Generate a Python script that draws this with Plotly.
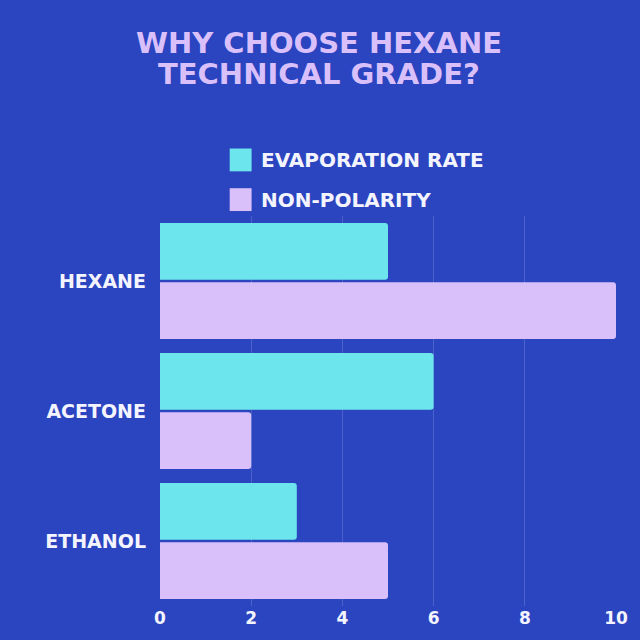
import plotly.graph_objects as go

categories = ["HEXANE", "ACETONE", "ETHANOL"]
evaporation_rate = [5, 6, 3]
non_polarity = [10, 2, 5]
series_names = ["EVAPORATION RATE", "NON-POLARITY"]
title_lines = ["WHY CHOOSE HEXANE", "TECHNICAL GRADE?"]
x_ticks = [0, 2, 4, 6, 8, 10]

BG = "#2b44bf"
CYAN = "#6ce5ec"
LAV = "#d9c0fb"
FONT = "DejaVu Sans"

fig = go.Figure()
fig.add_trace(go.Bar(y=categories, x=evaporation_rate, orientation="h", name=series_names[0],
                     marker=dict(color=CYAN, cornerradius=3, line=dict(width=0)), showlegend=False))
fig.add_trace(go.Bar(y=categories, x=non_polarity, orientation="h", name=series_names[1],
                     marker=dict(color=LAV, cornerradius=3, line=dict(width=0)), showlegend=False))

fig.update_layout(
    width=640, height=640,
    paper_bgcolor=BG, plot_bgcolor=BG,
    margin=dict(l=160, r=22, t=216, b=31),
    barmode="group", bargap=0.09, bargroupgap=0.04,
    xaxis=dict(range=[0, 10], tickvals=x_ticks, showgrid=True, gridcolor="rgba(255,255,255,0.16)",
               gridwidth=1, zeroline=False, showline=False,
               tickfont=dict(family=FONT, size=17, color="#f4f4ff", weight=900), ticks=""),
    yaxis=dict(autorange="reversed", showgrid=False, zeroline=False, showline=False,
               tickfont=dict(family=FONT, size=19, color="#f4f4ff", weight=900),
               ticks="", ticklabelstandoff=13),
)

PX0, PW, PB, PH = 160, 458, 609, 393

# title lines
for txt, yc in zip(title_lines, [42, 73]):
    fig.add_annotation(xref="paper", yref="paper", x=(320 - PX0) / PW, y=(PB - yc) / PH,
                       text=txt, showarrow=False, xanchor="center", yanchor="middle",
                       font=dict(family=FONT, size=29, color=LAV, weight=900))

# legend drawn as squares + labels
legend_colors = [CYAN, LAV]
legend_y = [159.5, 199.5]
for name, col, yc in zip(series_names, legend_colors, legend_y):
    fig.add_shape(type="rect", xref="paper", yref="paper",
                  x0=(230 - PX0) / PW, x1=(252 - PX0) / PW,
                  y0=(PB - (yc + 11.5)) / PH, y1=(PB - (yc - 11.5)) / PH,
                  fillcolor=col, line=dict(width=0))
    fig.add_annotation(xref="paper", yref="paper", x=(259 - PX0) / PW, y=(PB - yc) / PH,
                       text=name, showarrow=False, xanchor="left", yanchor="middle",
                       font=dict(family=FONT, size=20, color="#f4f4ff", weight=900))

fig.write_html("out.html")
